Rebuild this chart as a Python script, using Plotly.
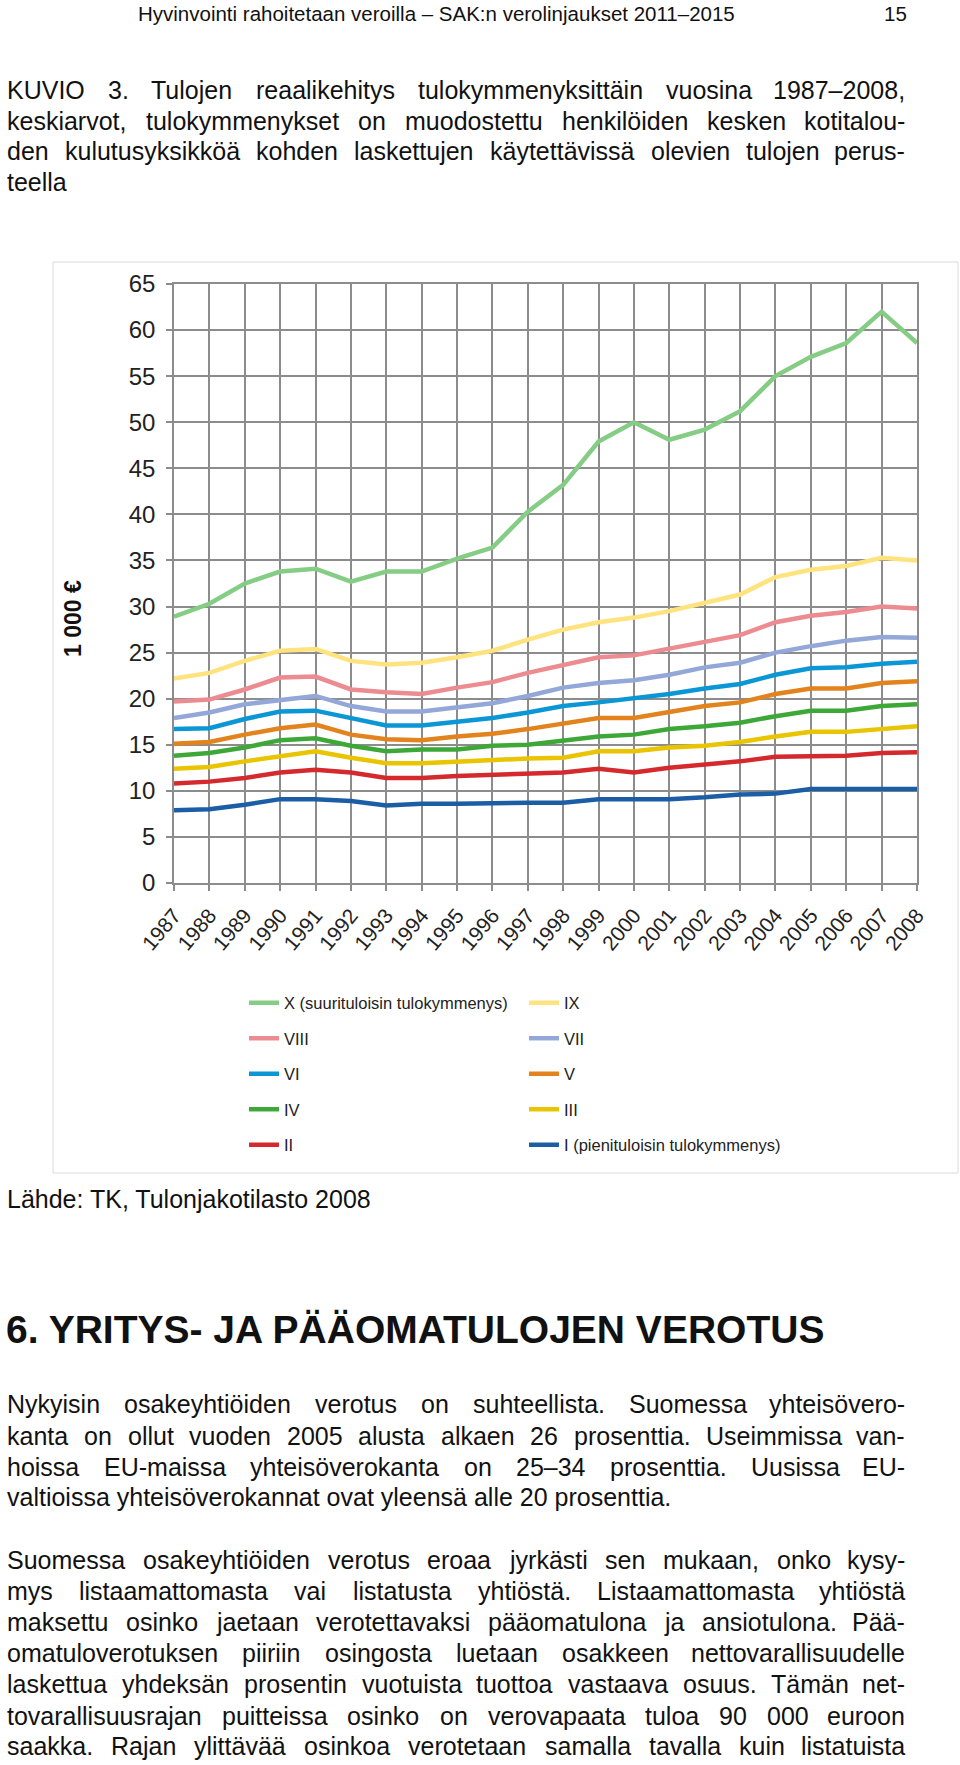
import plotly.graph_objects as go

W_PX, H_PX = 960, 1765

years = list(range(1987, 2009))

dec_x = [28.9, 30.3, 32.5, 33.8, 34.1, 32.7, 33.8, 33.8, 35.2, 36.4, 40.3, 43.2, 47.9, 50.0, 48.1, 49.2, 51.2, 55.0, 57.1, 58.6, 62.0, 58.6]
dec_ix = [22.2, 22.8, 24.1, 25.2, 25.4, 24.1, 23.7, 23.9, 24.5, 25.2, 26.4, 27.5, 28.3, 28.8, 29.5, 30.4, 31.3, 33.2, 34.0, 34.4, 35.3, 35.0]
dec_viii = [19.7, 19.9, 21.0, 22.3, 22.4, 21.0, 20.7, 20.5, 21.2, 21.8, 22.8, 23.7, 24.5, 24.7, 25.4, 26.1, 26.9, 28.3, 29.0, 29.4, 30.0, 29.8]
dec_vii = [17.9, 18.5, 19.4, 19.9, 20.3, 19.2, 18.6, 18.6, 19.0, 19.5, 20.3, 21.2, 21.7, 22.0, 22.6, 23.4, 23.9, 25.0, 25.7, 26.3, 26.7, 26.6]
dec_vi = [16.7, 16.8, 17.8, 18.6, 18.7, 17.9, 17.1, 17.1, 17.5, 17.9, 18.5, 19.2, 19.6, 20.0, 20.5, 21.1, 21.6, 22.6, 23.3, 23.4, 23.8, 24.0]
dec_v = [15.1, 15.3, 16.1, 16.8, 17.2, 16.1, 15.6, 15.5, 15.9, 16.2, 16.7, 17.3, 17.9, 17.9, 18.6, 19.2, 19.6, 20.5, 21.1, 21.1, 21.7, 21.9]
dec_iv = [13.8, 14.1, 14.7, 15.5, 15.7, 14.9, 14.3, 14.5, 14.5, 14.9, 15.0, 15.5, 15.9, 16.1, 16.7, 17.0, 17.4, 18.1, 18.7, 18.7, 19.2, 19.4]
dec_iii = [12.4, 12.6, 13.2, 13.8, 14.3, 13.6, 13.0, 13.0, 13.2, 13.4, 13.5, 13.6, 14.3, 14.3, 14.7, 14.9, 15.3, 15.9, 16.4, 16.4, 16.7, 17.0]
dec_ii = [10.8, 11.0, 11.4, 12.0, 12.3, 12.0, 11.4, 11.4, 11.6, 11.7, 11.9, 12.0, 12.4, 12.0, 12.5, 12.8, 13.2, 13.7, 13.8, 13.8, 14.1, 14.2]
dec_i = [7.9, 8.0, 8.5, 9.1, 9.1, 8.9, 8.4, 8.6, 8.6, 8.7, 8.7, 8.7, 9.1, 9.1, 9.1, 9.3, 9.6, 9.7, 10.2, 10.2, 10.2, 10.2]

series_names = ["X (suurituloisin tulokymmenys)", "IX", "VIII", "VII", "VI", "V", "IV", "III", "II",
                "I (pienituloisin tulokymmenys)"]
series_values = [dec_x, dec_ix, dec_viii, dec_vii, dec_vi, dec_v, dec_iv, dec_iii, dec_ii, dec_i]
series_colors = ["#85CC85", "#FFE37E", "#EC8C90", "#93A8D8", "#0B97D6", "#E2831E", "#3DA838", "#E9C400",
                 "#D42A2E", "#1C5EA6"]

y_ticks = list(range(0, 70, 5))

BODY = "Liberation Sans, Arial, Helvetica, sans-serif"

fig = go.Figure()

legend_keys = ["legend", "legend2", "legend3", "legend4", "legend5"]
for i, (name, vals, col) in enumerate(zip(series_names, series_values, series_colors)):
    fig.add_trace(go.Scatter(
        x=years, y=vals, mode="lines", name=name,
        line=dict(color=col, width=4.5),
        legend=legend_keys[i // 2],
    ))


def px_x(p):
    return p / W_PX


def px_y(p):
    return 1 - p / H_PX


# plot area
x_left, x_right = 174, 917
y_top, y_bot = 284, 883

grid_col = "#8c8c8c"
fig.update_layout(
    width=W_PX, height=H_PX,
    margin=dict(l=0, r=0, t=0, b=0, autoexpand=False),
    paper_bgcolor="white", plot_bgcolor="white",
    xaxis=dict(
        domain=[px_x(x_left), px_x(x_right)],
        range=[1987, 2008], tickmode="array", tickvals=years,
        ticktext=[str(y) for y in years],
        showgrid=True, gridcolor=grid_col, gridwidth=1.5,
        showline=True, linecolor=grid_col, linewidth=1.5, mirror=True,
        ticks="outside", ticklen=6, tickcolor=grid_col, tickwidth=1.5,
        tickangle=-50, tickfont=dict(family=BODY, size=21, color="#222"),
        ticklabelstandoff=4, zeroline=False,
    ),
    yaxis=dict(
        domain=[px_y(y_bot), px_y(y_top)],
        range=[0, 65], tickmode="array", tickvals=y_ticks,
        showgrid=True, gridcolor=grid_col, gridwidth=1.5,
        showline=True, linecolor=grid_col, linewidth=1.5, mirror=True,
        ticks="outside", ticklen=6, tickcolor=grid_col, tickwidth=1.5,
        tickfont=dict(family=BODY, size=24, color="#222"),
        ticklabelstandoff=6, zeroline=False,
    ),
    showlegend=True,
)

# legends: five rows of two entries
legend_rows_y = [1003, 1038.5, 1074, 1109.5, 1145]
for key, yy in zip(legend_keys, legend_rows_y):
    fig.update_layout({key: dict(
        orientation="h", x=px_x(244), y=px_y(yy), xanchor="left", yanchor="middle",
        entrywidth=235, entrywidthmode="pixels",
        font=dict(family=BODY, size=16.5, color="#222"),
        bgcolor="rgba(0,0,0,0)", borderwidth=0,
    )})

# chart frame
fig.add_shape(type="rect", xref="paper", yref="paper",
              x0=px_x(53), x1=px_x(958), y0=px_y(1173), y1=px_y(262),
              line=dict(color="#dadada", width=1), fillcolor="rgba(0,0,0,0)", layer="below")

# y-axis title
fig.add_annotation(xref="paper", yref="paper", x=px_x(73), y=px_y(619),
                   text="<b>1 000 €</b>", textangle=-90, showarrow=False,
                   font=dict(family=BODY, size=23, color="#111"),
                   xanchor="center", yanchor="middle")

# --- text helpers ---
AW = {' ': 278, 'a': 556, 'b': 556, 'c': 500, 'd': 556, 'e': 556, 'f': 278, 'g': 556, 'h': 556, 'i': 222,
      'j': 222, 'k': 500, 'l': 222, 'm': 833, 'n': 556, 'o': 556, 'p': 556, 'q': 556, 'r': 333, 's': 500,
      't': 278, 'u': 556, 'v': 500, 'w': 722, 'x': 500, 'y': 500, 'z': 500, 'ä': 556, 'ö': 556, 'å': 556,
      'A': 667, 'B': 667, 'C': 722, 'D': 722, 'E': 667, 'F': 611, 'G': 778, 'H': 722, 'I': 278, 'J': 500,
      'K': 667, 'L': 556, 'M': 833, 'N': 722, 'O': 778, 'P': 667, 'Q': 778, 'R': 722, 'S': 667, 'T': 611,
      'U': 722, 'V': 667, 'W': 944, 'X': 667, 'Y': 667, 'Z': 611, 'Ä': 667, 'Ö': 778,
      '.': 278, ',': 278, '-': 333, '–': 556, ':': 278, '(': 333, ')': 333, '€': 556}


def tw(s, size):
    return sum(AW.get(c, 556) for c in s) / 1000 * size


def add_text(text, y, size, justify=False, xl=6, xr=906, family=BODY, color="#111"):
    if not justify:
        fig.add_annotation(xref="paper", yref="paper", x=px_x(xl), y=px_y(y), text=text,
                           showarrow=False, xanchor="left", yanchor="middle",
                           font=dict(family=family, size=size, color=color), borderpad=0)
        return
    words = text.split(" ")
    widths = [tw(w, size) for w in words]
    gap = (xr - xl - sum(widths)) / (len(words) - 1)
    x = xl
    for i, (w, wd) in enumerate(zip(words, widths)):
        if i == len(words) - 1:
            fig.add_annotation(xref="paper", yref="paper", x=px_x(xr), y=px_y(y), text=w,
                               showarrow=False, xanchor="right", yanchor="middle",
                               font=dict(family=family, size=size, color=color), borderpad=0)
        else:
            fig.add_annotation(xref="paper", yref="paper", x=px_x(x), y=px_y(y), text=w,
                               showarrow=False, xanchor="left", yanchor="middle",
                               font=dict(family=family, size=size, color=color), borderpad=0)
        x += wd + gap


# header
add_text("Hyvinvointi rahoitetaan veroilla – SAK:n verolinjaukset 2011–2015", 14, 20.5, xl=137)
add_text("15", 14, 20.5, xl=883)

BS = 25
caption = [
    ("KUVIO 3. Tulojen reaalikehitys tulokymmenyksittäin vuosina 1987–2008,", 90, True),
    ("keskiarvot, tulokymmenykset on muodostettu henkilöiden kesken kotitalou-", 120.5, True),
    ("den kulutusyksikköä kohden laskettujen käytettävissä olevien tulojen perus-", 151, True),
    ("teella", 182, False),
]
for t, y, j in caption:
    add_text(t, y, BS, justify=j)

add_text("Lähde: TK, Tulonjakotilasto 2008", 1199, BS)

fig.add_annotation(xref="paper", yref="paper", x=px_x(5), y=px_y(1329),
                   text="<b>6. YRITYS- JA PÄÄOMATULOJEN VEROTUS</b>", showarrow=False,
                   xanchor="left", yanchor="middle",
                   font=dict(family=BODY, size=39, color="#111"), borderpad=0)

body = [
    ("Nykyisin osakeyhtiöiden verotus on suhteellista. Suomessa yhteisövero-", 1404, True),
    ("kanta on ollut vuoden 2005 alusta alkaen 26 prosenttia. Useimmissa van-", 1435.5, True),
    ("hoissa EU-maissa yhteisöverokanta on 25–34 prosenttia. Uusissa EU-", 1467, True),
    ("valtioissa yhteisöverokannat ovat yleensä alle 20 prosenttia.", 1497, False),
    ("Suomessa osakeyhtiöiden verotus eroaa jyrkästi sen mukaan, onko kysy-", 1560, True),
    ("mys listaamattomasta vai listatusta yhtiöstä. Listaamattomasta yhtiöstä", 1591, True),
    ("maksettu osinko jaetaan verotettavaksi pääomatulona ja ansiotulona. Pää-", 1622, True),
    ("omatuloverotuksen piiriin osingosta luetaan osakkeen nettovarallisuudelle", 1653, True),
    ("laskettua yhdeksän prosentin vuotuista tuottoa vastaava osuus. Tämän net-", 1684, True),
    ("tovarallisuusrajan puitteissa osinko on verovapaata tuloa 90 000 euroon", 1716, True),
    ("saakka. Rajan ylittävää osinkoa verotetaan samalla tavalla kuin listatuista", 1746, True),
]
for t, y, j in body:
    add_text(t, y, BS, justify=j)

fig.write_html("out.html", config={"displayModeBar": False},
               post_script="document.body.style.margin='0px';")
